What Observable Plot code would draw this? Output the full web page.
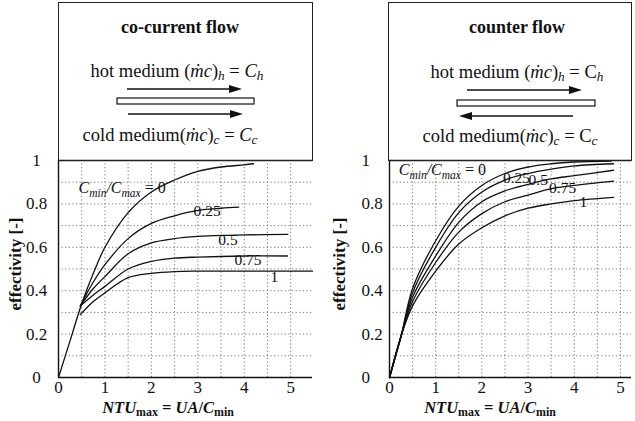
<!DOCTYPE html>
<html><head><meta charset="utf-8">
<script src="https://cdn.jsdelivr.net/npm/d3@7"></script>
<script src="https://cdn.jsdelivr.net/npm/@observablehq/plot@0.6"></script>
<style>
body{margin:0;background:#fff;}
#wrap{position:relative;width:635px;height:421px;overflow:hidden;font-family:"Liberation Serif","DejaVu Serif",serif;color:#111;}
.abs{position:absolute;white-space:nowrap;line-height:1;}
.box{position:absolute;border:1.4px solid #222;box-sizing:border-box;}
.ctr{transform:translate(-50%,-50%);}
sub{font-size:0.72em;vertical-align:-0.25em;line-height:0;}
.ylab{font-weight:bold;font-size:17px;transform:translate(-50%,-50%) rotate(-90deg);}
.xlab{font-weight:bold;font-size:16.5px;}
.hdr{font-size:18.5px;}
.ttl{font-weight:bold;font-size:18px;}
</style></head><body><div id="wrap"></div>
<script>
// ---- data ----
const ntuTicks = [0, 1, 2, 3, 4, 5];
const effTicks = [0, 0.2, 0.4, 0.6, 0.8, 1];
const gridNtu = [0.5, 1, 1.5, 2, 2.5, 3, 3.5, 4, 4.5, 5];
const gridEff = [0.1, 0.2, 0.3, 0.4, 0.5, 0.6, 0.7, 0.8, 0.9];
const ratios = ["0", "0.25", "0.5", "0.75", "1"];
const ratioTitle = "C_min/C_max = 0";

// co-current flow: [NTU, effectivity]
const co0    = [[0,0],[0.25,0.17],[0.5,0.34],[0.75,0.48],[1,0.6],[1.5,0.76],[2,0.855],[2.5,0.91],[3,0.95],[3.5,0.97],[4,0.98],[4.2,0.985]];
const co025  = [[0.47,0.33],[0.75,0.44],[1,0.52],[1.5,0.64],[2,0.71],[2.5,0.745],[3,0.77],[3.5,0.78],[3.88,0.785]];
const co05   = [[0.47,0.33],[0.75,0.41],[1,0.465],[1.5,0.57],[2,0.62],[2.5,0.64],[3,0.65],[3.5,0.655],[4,0.657],[4.94,0.66]];
const co075  = [[0.47,0.33],[0.75,0.38],[1,0.42],[1.5,0.5],[2,0.535],[2.5,0.55],[3,0.555],[4,0.56],[4.93,0.56]];
const co1    = [[0.47,0.29],[0.75,0.35],[1,0.39],[1.5,0.46],[2,0.48],[2.5,0.488],[3,0.49],[5.47,0.49]];

// counter flow: [NTU, effectivity]
const cf0    = [[0,0],[0.25,0.19],[0.5,0.41],[1,0.63],[1.5,0.79],[2,0.885],[2.5,0.94],[3,0.97],[3.5,0.985],[4,0.993],[4.8,0.997]];
const cf025  = [[0,0],[0.25,0.19],[0.5,0.39],[1,0.6],[1.5,0.76],[2,0.855],[2.5,0.91],[3,0.94],[3.5,0.96],[4,0.975],[4.85,0.985]];
const cf05   = [[0,0],[0.25,0.19],[0.5,0.37],[1,0.56],[1.5,0.715],[2,0.81],[2.5,0.86],[3,0.89],[3.5,0.915],[4,0.93],[4.85,0.955]];
const cf075  = [[0,0],[0.25,0.19],[0.5,0.35],[1,0.53],[1.5,0.67],[2,0.755],[2.5,0.81],[3,0.84],[3.5,0.87],[4,0.885],[4.85,0.905]];
const cf1    = [[0,0],[0.25,0.19],[0.5,0.33],[1,0.49],[1.5,0.615],[2,0.69],[2.5,0.745],[3,0.78],[3.5,0.8],[4,0.815],[4.85,0.83]];

// curve label anchors [NTU, effectivity]; first = start of the title label
const coLabelPos = [[0.43,0.875],[3.2,0.765],[3.65,0.632],[4.08,0.54],[4.65,0.465]];
const cfLabelPos = [[0.2,0.955],[2.75,0.92],[3.22,0.91],[3.75,0.875],[4.2,0.81]];

// ---- build ----
function rows(series) {
  const out = [];
  series.forEach((s, i) => s.forEach(([x, y]) => out.push({cr: ratios[i], x, y})));
  return out;
}

function makePlot(series, labPos, xmax, width, ml, mr, yAnchor, yPad) {
  const titleLab = [{x: labPos[0][0], y: labPos[0][1], text: ratioTitle}];
  const numLabs = labPos.slice(1).map(([x, y], i) => ({x, y, text: ratios[i + 1]}));
  const svg = Plot.plot({
    width, height: 421, marginTop: 160, marginBottom: 44, marginLeft: ml, marginRight: mr,
    style: {fontFamily: '"Liberation Serif","DejaVu Serif",serif', fontSize: "17px", background: "transparent", color: "#111", overflow: "visible"},
    x: {domain: [0, xmax]},
    y: {domain: [0, 1]},
    marks: [
      Plot.ruleX(gridNtu, {stroke: "#777", strokeWidth: 1, strokeDasharray: "1.2,2.4", y1: 0, y2: 1}),
      Plot.ruleY(gridEff, {stroke: "#777", strokeWidth: 1, strokeDasharray: "1.2,2.4"}),
      Plot.line(rows(series), {x: "x", y: "y", z: "cr", curve: "catmull-rom", stroke: "#111", strokeWidth: 1.3}),
      Plot.text(titleLab, {x: "x", y: "y", text: "text", textAnchor: "start", fontSize: 16, fill: "#111"}),
      Plot.text(numLabs, {x: "x", y: "y", text: "text", textAnchor: "middle", fontSize: 15.5, fill: "#111"}),
      Plot.ruleX([0], {stroke: "#111", strokeWidth: 1.4}),
      Plot.ruleY([0], {stroke: "#111", strokeWidth: 1.4}),
      Plot.ruleY([1], {stroke: "#111", strokeWidth: 1.4}),
      Plot.axisX({ticks: ntuTicks, tickSize: 0, tickPadding: 3, tickFormat: d => String(d), label: null}),
      Plot.axisY({ticks: effTicks, tickSize: 0, tickPadding: yPad, textAnchor: yAnchor, tickFormat: d => String(d), label: null})
    ]
  });
  // rich text for the C_min/C_max label
  svg.querySelectorAll("text").forEach(t => {
    if (t.textContent === ratioTitle) {
      t.textContent = "";
      const parts = [["C", "italic", 0, null], ["min", "italic", 4, 11.5], ["/", "italic", -4, null], ["C", "italic", 0, null], ["max", "italic", 4, 11.5], [" = 0", "normal", -4, null]];
      parts.forEach(([s, st, dy, fs]) => {
        const ts = document.createElementNS("http://www.w3.org/2000/svg", "tspan");
        ts.textContent = s;
        ts.setAttribute("font-style", st);
        if (dy) ts.setAttribute("dy", dy);
        if (fs) ts.setAttribute("font-size", fs);
        t.appendChild(ts);
      });
    }
  });
  return svg;
}

const wrap = document.getElementById("wrap");
const left = makePlot([co0, co025, co05, co075, co1], coLabelPos, 5.47, 315, 58, 3, "middle", 22);
left.style.position = "absolute"; left.style.left = "0px"; left.style.top = "0px";
wrap.appendChild(left);
const right = makePlot([cf0, cf025, cf05, cf075, cf1], cfLabelPos, 5.24, 320, 74, 4, "start", 28);
right.style.position = "absolute"; right.style.left = "315px"; right.style.top = "0px";
wrap.appendChild(right);

// header boxes
function addHtml(cls, html, x, y, extra) {
  const d = document.createElement("div");
  d.className = "abs " + cls;
  d.innerHTML = html;
  d.style.left = x + "px"; d.style.top = y + "px";
  if (extra) Object.assign(d.style, extra);
  wrap.appendChild(d);
  return d;
}
addHtml("box", "", 57.5, 2, {width: "255px", height: "159px"});
addHtml("box", "", 388, 2, {width: "244px", height: "159px"});

addHtml("ttl ctr", "co-current flow", 180, 27);
addHtml("hdr ctr", "hot medium (<i>ṁc</i>)<sub><i>h</i></sub> = <i>C</i><sub><i>h</i></sub>", 177, 71);
addHtml("hdr ctr", "cold medium(<i>ṁc</i>)<sub><i>c</i></sub> = <i>C</i><sub><i>c</i></sub>", 170, 135);
addHtml("ttl ctr", "counter flow", 517, 27);
addHtml("hdr ctr", "hot medium (<i>ṁc</i>)<sub><i>h</i></sub> = C<sub><i>h</i></sub>", 517, 72);
addHtml("hdr ctr", "cold medium(<i>ṁc</i>)<sub><i>c</i></sub> = C<sub><i>c</i></sub>", 510, 136);

// arrows and tube (overlay svg)
const ov = d3.select(wrap).append("svg").attr("width", 635).attr("height", 160)
  .style("position", "absolute").style("left", 0).style("top", 0);
function arrow(x1, x2, y) {
  const dir = Math.sign(x2 - x1);
  ov.append("line").attr("x1", x1).attr("x2", x2 - dir * 10).attr("y1", y).attr("y2", y).attr("stroke", "#111").attr("stroke-width", 1.3);
  ov.append("path").attr("d", `M${x2},${y}L${x2 - dir * 13},${y - 4}L${x2 - dir * 13},${y + 4}Z`).attr("fill", "#111");
}
arrow(127, 242, 89);
arrow(128, 243, 114);
ov.append("rect").attr("x", 117).attr("y", 98).attr("width", 137).attr("height", 6).attr("fill", "#fff").attr("stroke", "#111").attr("stroke-width", 1.2);
arrow(467, 582, 90);
arrow(573, 459, 116);
ov.append("rect").attr("x", 457).attr("y", 100).attr("width", 138).attr("height", 6).attr("fill", "#fff").attr("stroke", "#111").attr("stroke-width", 1.2);

// axis titles
addHtml("ylab", "effectivity [-]", 15, 264);
addHtml("ylab", "effectivity [-]", 339, 264);
addHtml("xlab ctr", "<i>NTU</i><sub>max</sub> = <i>UA</i>/<i>C</i><sub>min</sub>", 168, 408);
addHtml("xlab ctr", "<i>NTU</i><sub>max</sub> = <i>UA</i>/<i>C</i><sub>min</sub>", 490, 408);
</script></body></html>
